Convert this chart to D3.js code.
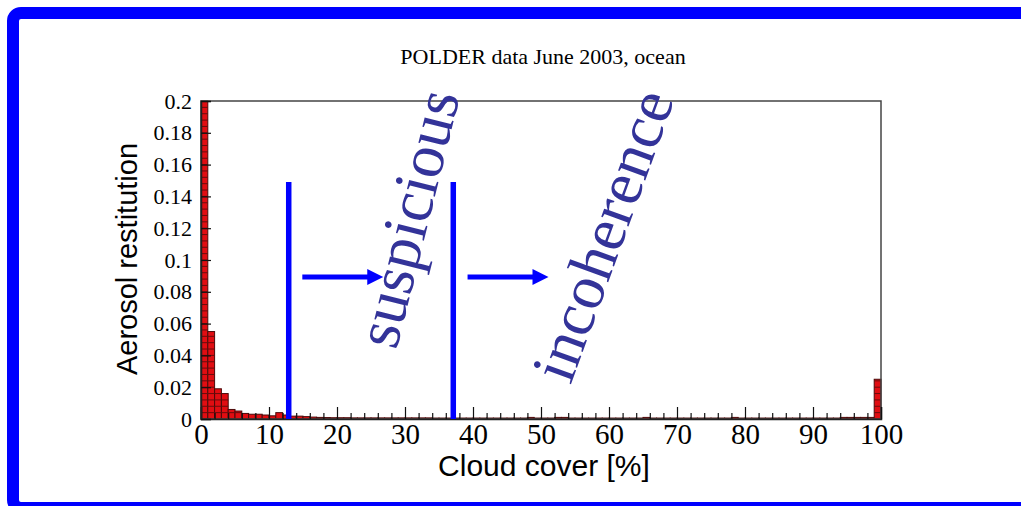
<!DOCTYPE html>
<html>
<head>
<meta charset="utf-8">
<script src="https://cdn.jsdelivr.net/npm/d3@7"></script>
<style>
  body { margin: 0; background: #fff; }
  svg { display: block; }
</style>
</head>
<body>
<script>
// histogram of aerosol restitution per 1% cloud-cover bin (0..99)
const binStart = d3.range(0, 100);
const restitution = [
  0.2, 0.055, 0.019, 0.016, 0.006, 0.005, 0.0035, 0.003, 0.003, 0.0025,
  0.002, 0.004, 0.0025, 0.0018, 0.0018, 0.0015, 0.0012, 0.001, 0.0009, 0.0008,
  0.0008, 0.0008, 0.0007, 0.0007, 0.0007, 0.0007, 0.0007, 0.0007, 0.0007, 0.0007,
  0.0007, 0.0007, 0.0007, 0.0007, 0.0006, 0.0006, 0.0006, 0.0006, 0.0006, 0.0006,
  0.0006, 0.0006, 0.0006, 0.0006, 0.0006, 0.0006, 0.0006, 0.0006, 0.001, 0.0006,
  0.0006, 0.0006, 0.001, 0.001, 0.0006, 0.0006, 0.0006, 0.0006, 0.0006, 0.0006,
  0.0006, 0.0006, 0.0006, 0.0006, 0.0006, 0.001, 0.0006, 0.0006, 0.0006, 0.0006,
  0.0006, 0.0006, 0.0006, 0.0006, 0.0006, 0.0006, 0.0006, 0.0006, 0.001, 0.0006,
  0.0006, 0.0006, 0.0006, 0.0006, 0.0006, 0.0006, 0.0006, 0.0006, 0.0006, 0.0006,
  0.0006, 0.0006, 0.0006, 0.0006, 0.001, 0.001, 0.001, 0.001, 0.001, 0.025
];
const xMajor = [0, 10, 20, 30, 40, 50, 60, 70, 80, 90, 100];
const yTicks = [0, 0.02, 0.04, 0.06, 0.08, 0.1, 0.12, 0.14, 0.16, 0.18, 0.2];
// annotation marks in data units
const cutLines = [12.9, 37.1];
const cutTop = 0.149;
const arrows = [[14.9, 26.8], [39.2, 51.1]];
const arrowY = 0.0893;
const words = [
  { text: "suspicious", x: 33.4, y: 0.123, angle: -76 },
  { text: "incoherence", x: 62.0, y: 0.111, angle: -70 }
];

const width = 1021, height = 506;
const serif = "'Liberation Serif', 'Times New Roman', serif";
const sans = "'Liberation Sans', Arial, sans-serif";

const svg = d3.select("body").append("svg")
  .attr("width", width)
  .attr("height", height);

// blue slide frame
svg.append("rect")
  .attr("x", 13).attr("y", 13)
  .attr("width", 1100).attr("height", 495)
  .attr("rx", 8)
  .attr("fill", "#fff")
  .attr("stroke", "#0000ff")
  .attr("stroke-width", 12);

const x = d3.scaleLinear().domain([0, 100]).range([201, 881]);
const y = d3.scaleLinear().domain([0, 0.2]).range([419, 101]);

svg.append("text")
  .attr("x", 543).attr("y", 64)
  .attr("text-anchor", "middle")
  .attr("font-family", serif)
  .attr("font-size", 22)
  .text("POLDER data June 2003, ocean");

// bars
const bars = svg.append("g");
bars.selectAll("rect")
  .data(binStart)
  .join("rect")
  .attr("x", d => x(d))
  .attr("y", (d, i) => y(restitution[i]))
  .attr("width", d => x(d + 1) - x(d))
  .attr("height", (d, i) => y(0) - y(restitution[i]))
  .attr("fill", "#e10d12")
  .attr("stroke", "#4a0a0a")
  .attr("stroke-width", 1);

// dark rungs inside the bars
const rungs = [];
binStart.forEach((d, i) => {
  for (let v = 0.004; v < restitution[i]; v += 0.004) rungs.push({ b: d, v: v });
});
bars.selectAll("line.rung")
  .data(rungs)
  .join("line")
  .attr("class", "rung")
  .attr("x1", d => x(d.b)).attr("x2", d => x(d.b + 1))
  .attr("y1", d => y(d.v)).attr("y2", d => y(d.v))
  .attr("stroke", "#6a0c0c")
  .attr("stroke-width", 1);

// plot box
svg.append("rect")
  .attr("x", x(0)).attr("y", y(0.2))
  .attr("width", x(100) - x(0)).attr("height", y(0) - y(0.2))
  .attr("fill", "none")
  .attr("stroke", "#444")
  .attr("stroke-width", 1.5);

// x axis
const xAxis = svg.append("g")
  .attr("transform", "translate(0," + y(0) + ")")
  .call(d3.axisBottom(x).tickValues(xMajor).tickSize(-12).tickPadding(4).tickFormat(d3.format("d")));
svg.append("g")
  .attr("transform", "translate(0," + y(0) + ")")
  .call(d3.axisBottom(x).tickValues(d3.range(0, 101, 2).filter(v => v % 10)).tickSize(-6).tickFormat(""))
  .call(g => g.select(".domain").remove());
xAxis.selectAll("text")
  .attr("font-family", serif)
  .attr("font-size", 29)
  .attr("fill", "#000");

// y axis
const yAxis = svg.append("g")
  .attr("transform", "translate(" + x(0) + ",0)")
  .call(d3.axisLeft(y).tickValues(yTicks).tickSize(-10).tickPadding(9).tickFormat(d => String(+d.toFixed(2))));
yAxis.selectAll("text")
  .attr("font-family", serif)
  .attr("font-size", 22)
  .attr("fill", "#000");
svg.selectAll(".domain").attr("stroke", "#222").attr("stroke-width", 1.5);
svg.selectAll(".tick line").attr("stroke", "#111").attr("stroke-width", 1.2);

// axis titles
svg.append("text")
  .attr("x", 544).attr("y", 476)
  .attr("text-anchor", "middle")
  .attr("font-family", sans)
  .attr("font-size", 30)
  .text("Cloud cover [%]");
svg.append("text")
  .attr("transform", "translate(137,259) rotate(-90)")
  .attr("text-anchor", "middle")
  .attr("font-family", sans)
  .attr("font-size", 29)
  .text("Aerosol restitution");

// annotations
const ann = svg.append("g");
ann.selectAll("line.cut")
  .data(cutLines)
  .join("line")
  .attr("class", "cut")
  .attr("x1", d => x(d)).attr("x2", d => x(d))
  .attr("y1", y(cutTop)).attr("y2", y(0))
  .attr("stroke", "#0000ff")
  .attr("stroke-width", 5.5);

ann.selectAll("line.arrow")
  .data(arrows)
  .join("line")
  .attr("class", "arrow")
  .attr("x1", d => x(d[0])).attr("x2", d => x(d[1]) - 14)
  .attr("y1", y(arrowY)).attr("y2", y(arrowY))
  .attr("stroke", "#0000ff")
  .attr("stroke-width", 5);
ann.selectAll("path.head")
  .data(arrows)
  .join("path")
  .attr("class", "head")
  .attr("d", d => {
    const tx = x(d[1]), ty = y(arrowY);
    return "M" + tx + "," + ty + "L" + (tx - 16) + "," + (ty - 8) + "L" + (tx - 16) + "," + (ty + 8) + "Z";
  })
  .attr("fill", "#0000ff");

ann.selectAll("text")
  .data(words)
  .join("text")
  .attr("transform", d => "translate(" + x(d.x) + "," + y(d.y) + ") rotate(" + d.angle + ")")
  .attr("text-anchor", "middle")
  .attr("font-family", serif)
  .attr("font-size", 63)
  .attr("fill", "#333399")
  .text(d => d.text);
</script>
</body>
</html>
